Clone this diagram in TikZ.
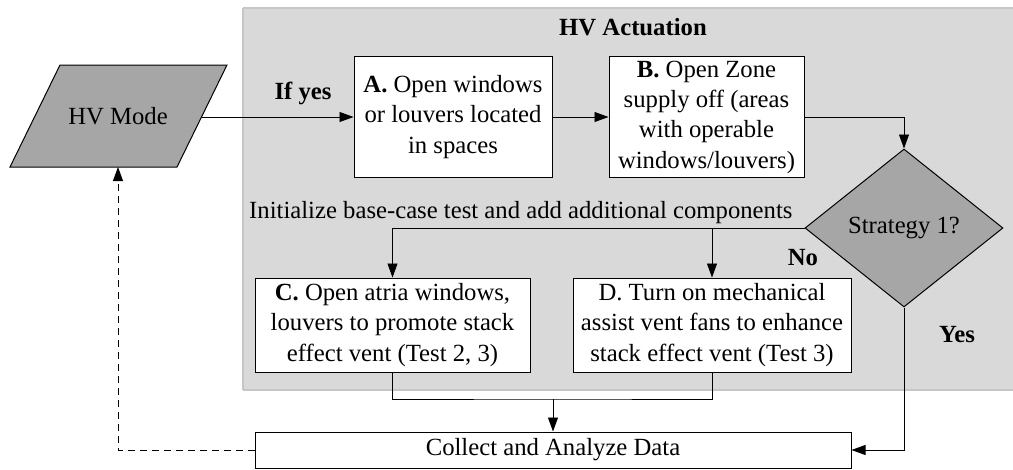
\documentclass[tikz,border=0pt]{standalone}
\usepackage{fontspec}
\setmainfont{Liberation Serif}
\usetikzlibrary{shapes.geometric,arrows.meta}
\begin{document}
\begin{tikzpicture}[x=1pt,y=-1pt,
  every node/.style={font=\fontsize{24.7}{30.3}\selectfont},
  box/.style={draw=black,line width=1pt,fill=white,align=center,inner sep=0pt},
  conn/.style={line width=0.8pt},
  arr/.style={conn,-{Triangle[length=14pt,width=10pt]}},
  lbl/.style={font=\fontsize{24.7}{30.3}\selectfont\bfseries,inner sep=0pt}]
\useasboundingbox (0,0) rectangle (1013,469);
% panel
\fill[gray!30] (243,8) rectangle (1015,390);
\draw[gray!45,line width=2pt] (243,8) -- (1015,8);
\draw[gray!45,line width=2pt] (243,390) -- (1015,390);
\draw[gray!45,line width=2pt] (243,8) -- (243,390);
\node[lbl] (title) at (633,27) {HV Actuation};
% HV Mode parallelogram
\draw[line width=1pt,fill=black!35] (60,65) -- (227,65) -- (177,167) -- (10,167) -- cycle;
\node[inner sep=0pt] (hv) at (118,116) {HV Mode};
\coordinate (hvR) at (202,117);
\coordinate (hvB) at (118,167);
% boxes
\node[box,minimum width=198pt,minimum height=121pt] (A) at (453,117) {\textbf{A.} Open windows\\or louvers located\\in spaces};
\node[box,minimum width=195pt,minimum height=121pt] (B) at (706.5,117) {\textbf{B.} Open Zone\\supply off (areas\\with operable\\windows/louvers)};
\node[diamond,draw=black,line width=1pt,fill=black!35,minimum width=198pt,minimum height=158pt,inner sep=0pt] (S) at (904,228) {Strategy 1?};
\node[box,minimum width=275pt,minimum height=94pt] (C) at (392.5,325) {\textbf{C.} Open atria windows,\\louvers to promote stack\\effect vent (Test 2, 3)};
\node[box,minimum width=278pt,minimum height=94pt] (D) at (712,325) {D. Turn on mechanical\\assist vent fans to enhance\\stack effect vent (Test 3)};
\node[box,minimum width=596pt,minimum height=36pt] (Col) at (553,450) {Collect and Analyze Data};
% labels
\node[lbl] (ifyes) at (303,93) {If yes};
\node[inner sep=0pt,anchor=west] (init) at (249,213) {Initialize base-case test and add additional components};
\node[lbl] (no) at (803,258) {No};
\node[lbl] (yes) at (957,335) {Yes};
% connectors
\draw[arr] (hvR) -- (A.west);
\draw[arr] (A.east) -- (B.west);
\draw[arr] (B.east) -| (S.north);
\draw[conn] (S.west) -- (S.west -| C.north);
\draw[arr] (S.west -| C.north) -- (C.north);
\draw[arr] (S.west -| D.north) -- (D.north);
\coordinate (join) at (553,399);
\draw[conn] (C.south) |- (join) -| (D.south);
\draw[arr] (join) -- (Col.north);
\draw[arr] (S.south) |- (Col.east);
\draw[arr,dashed,dash pattern=on 7pt off 5pt] (Col.west) -| (hvB);
\end{tikzpicture}
\end{document}
